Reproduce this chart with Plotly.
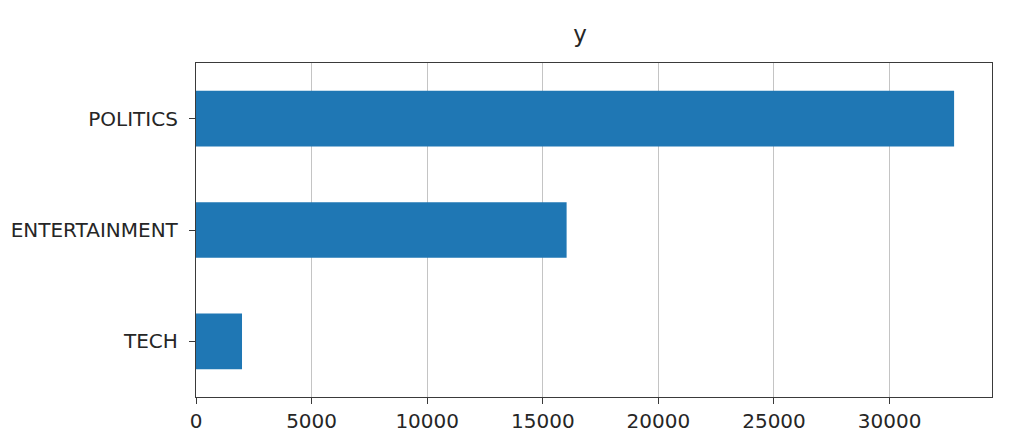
import plotly.graph_objects as go

categories = ["TECH", "ENTERTAINMENT", "POLITICS"]
counts = [1990, 16030, 32790]
tick_vals = [0, 5000, 10000, 15000, 20000, 25000, 30000]

font = "DejaVu Sans"

# the page puts the figure about 8px in from the top-left corner
W, H = 1016, 439

fig = go.Figure(go.Bar(
    x=counts,
    y=categories,
    orientation="h",
    width=0.5,
    marker=dict(color="#1f77b4", line=dict(width=0)),
))

fig.update_layout(
    width=W,
    height=H,
    margin=dict(l=188, r=32, t=55, b=50),
    plot_bgcolor="white",
    paper_bgcolor="white",
    font=dict(family=font, size=20, color="#262626"),
    showlegend=False,
    title=dict(
        text="y",
        x=572 / W,
        xanchor="center",
        y=1 - 26 / H,
        yanchor="middle",
        font=dict(family=font, size=23, color="#262626"),
    ),
)

fig.update_xaxes(
    range=[0, max(counts) * 1.05],
    tickvals=tick_vals,
    ticktext=[str(v) for v in tick_vals],
    showgrid=True,
    gridcolor="#c4c4c4",
    gridwidth=1,
    zeroline=False,
    showline=True,
    linecolor="#3a3a3a",
    linewidth=1.3,
    mirror=True,
    ticks="outside",
    ticklen=6,
    tickcolor="#3a3a3a",
    automargin=False,
)

fig.update_yaxes(
    range=[-0.5, 2.5],
    showgrid=False,
    zeroline=False,
    showline=True,
    linecolor="#3a3a3a",
    linewidth=1.3,
    mirror=True,
    ticks="outside",
    ticklen=6,
    tickcolor="#3a3a3a",
    ticklabelstandoff=7,
    automargin=False,
)

fig.write_html("out.html")
